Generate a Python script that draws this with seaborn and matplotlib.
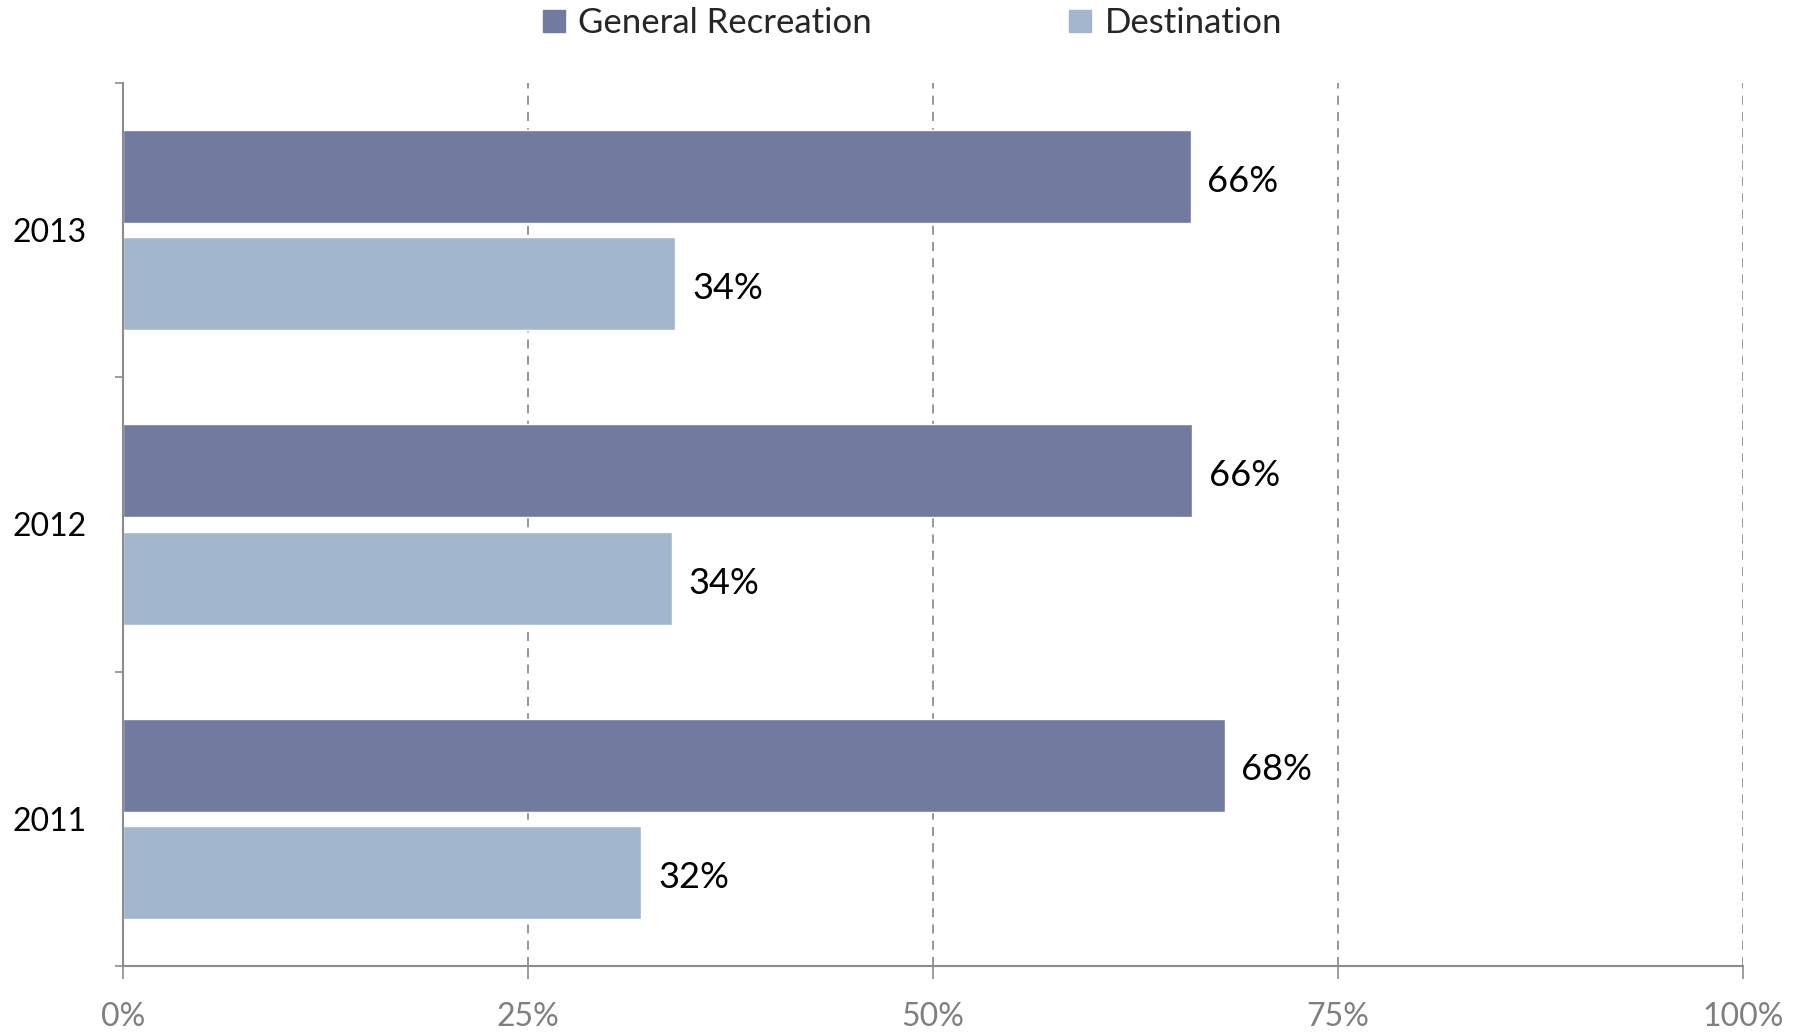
import matplotlib
matplotlib.use("Agg")
import matplotlib.pyplot as plt
from matplotlib.lines import Line2D
import seaborn as sns
import pandas as pd

years = ["2013", "2012", "2011"]
general_recreation = [65.9, 66.0, 68.0]
destination = [34.1, 33.9, 32.0]
series_names = ["General Recreation", "Destination"]
x_ticks = [0, 25, 50, 75, 100]
x_tick_labels = ["0%", "25%", "50%", "75%", "100%"]
colors = ["#717BA0", "#A2B7CD"]

df = pd.DataFrame({
    "Year": years * 2,
    "Share": general_recreation + destination,
    "Series": [series_names[0]] * len(years) + [series_names[1]] * len(years),
})

sns.set_style("white")
plt.rcParams["font.family"] = ["Lato", "DejaVu Sans"]

fig = plt.figure(figsize=(18.04, 10.32), dpi=100)
ax = fig.add_axes([0.0682, 0.064, 0.898, 0.8556])

sns.barplot(data=df, y="Year", x="Share", hue="Series", order=years,
            hue_order=series_names, palette=colors, orient="h",
            width=0.73, gap=0.135, saturation=1, errorbar=None,
            legend=False, ax=ax)

for cont in ax.containers:
    vals = [b.get_width() for b in cont]
    texts = ax.bar_label(cont, labels=[f"{v:.0f}%" for v in vals], padding=12,
                         fontsize=26, color="black")
    for t in texts:
        t.xyann = (12, -3.5)

ax.set_xlim(0, 100)
ax.set_ylim(2.5, -0.5)
ax.set_xticks(x_ticks)
ax.set_xticklabels(x_tick_labels, fontsize=23, color="#7F7F7F")
ax.set_yticks(range(len(years)))
ax.set_yticklabels(years, fontsize=23, color="black")
ax.set_yticks([-0.5, 0.5, 1.5, 2.5], minor=True)
ax.tick_params(axis="y", which="major", length=0, pad=26)
ax.tick_params(axis="y", which="minor", length=6, width=1.2, color="#8C8C8C", direction="out", left=True)
ax.tick_params(axis="x", which="major", length=9, width=1.2, color="#8C8C8C", direction="out", pad=17, bottom=True)
ax.set_xlabel("")
ax.set_ylabel("")

for x in x_ticks[1:]:
    ax.axvline(x, color="#8F8F8F", linestyle=(0, (5, 4)), linewidth=1.3, zorder=0)

for s in ["top", "right"]:
    ax.spines[s].set_visible(False)
for s in ["left", "bottom"]:
    ax.spines[s].set_color("#8C8C8C")
    ax.spines[s].set_linewidth(1.5)

handles = [Line2D([], [], marker="s", linestyle="", markersize=16,
                  markerfacecolor=c, markeredgecolor=c) for c in colors]
fig.legend(handles, series_names, loc="center", bbox_to_anchor=(0.505, 0.978),
           ncol=2, frameon=False, fontsize=25, handlelength=0.8,
           handletextpad=0.3, columnspacing=5.6)

fig.savefig("out.png", dpi=100)
